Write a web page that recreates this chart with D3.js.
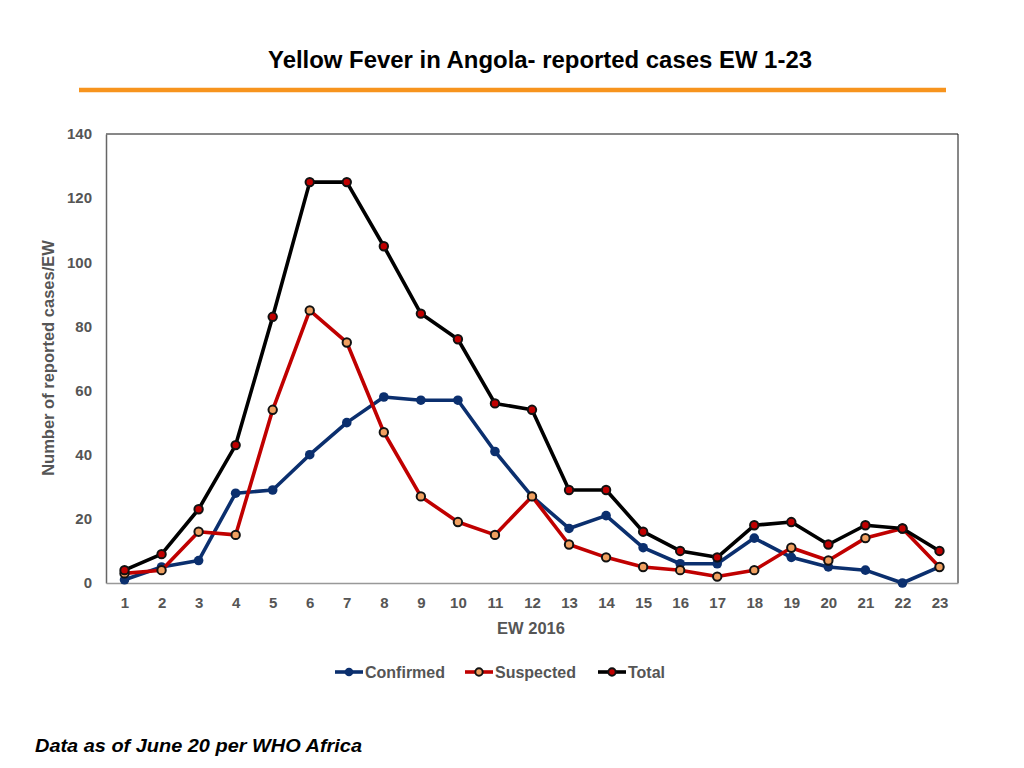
<!DOCTYPE html>
<html><head><meta charset="utf-8">
<script src="https://cdn.jsdelivr.net/npm/d3@7"></script>
<style>body{margin:0;background:#fff}svg{display:block}</style>
</head><body>
<svg id="c" width="1024" height="768"></svg>
<script>
const weeks = d3.range(1, 24).map(String);
const confirmed = [1,5,7,28,29,40,50,58,57,57,41,27,17,21,11,6,6,14,8,5,4,0,5];
const suspected = [3,4,16,15,54,85,75,47,27,19,15,27,12,8,5,4,2,4,11,7,14,17,5];
const total = [4,9,23,43,83,125,125,105,84,76,56,54,29,29,16,10,8,18,19,12,18,17,10];
const yTicks = [0,20,40,60,80,100,120,140];
const seriesNames = ["Confirmed","Suspected","Total"];

const svg = d3.select("#c");
const L = 106, R = 958, T = 134, B = 583;
const x = d3.scalePoint().domain(weeks).range([L, R]).padding(0.5);
const y = d3.scaleLinear().domain([0,140]).range([B, T]);

// title
svg.append("text").attr("x", 540).attr("y", 68).attr("text-anchor","middle")
  .attr("font-family","'Liberation Sans', Arial, sans-serif")
  .attr("font-weight","bold").attr("font-size",23).attr("fill","#000")
  .attr("textLength",544).attr("lengthAdjust","spacingAndGlyphs")
  .text("Yellow Fever in Angola- reported cases EW 1-23");
svg.append("line").attr("x1",79).attr("x2",946).attr("y1",90).attr("y2",90)
  .attr("stroke","#f7941d").attr("stroke-width",4.5);

// frame
svg.append("line").attr("x1",L).attr("x2",R).attr("y1",T).attr("y2",T).attr("stroke","#111").attr("stroke-width",1);
svg.append("line").attr("x1",R).attr("x2",R).attr("y1",T).attr("y2",B).attr("stroke","#111").attr("stroke-width",1);

const font = "'Liberation Sans', Arial, Helvetica, sans-serif";
// y axis
const ya = svg.append("g").attr("transform",`translate(${L},0)`)
  .call(d3.axisLeft(y).tickValues(yTicks).tickSize(0).tickPadding(14));
ya.select(".domain").attr("stroke","#666").attr("stroke-width",1.5);
ya.selectAll("text").attr("font-family",font).attr("font-weight","bold").attr("font-size",15).attr("fill","#555");

// x axis
const xa = svg.append("g").attr("transform",`translate(0,${B})`)
  .call(d3.axisBottom(x).tickSize(0).tickPadding(14));
xa.select(".domain").attr("stroke","#999").attr("stroke-width",1.5);
xa.selectAll("text").attr("font-family",font).attr("font-weight","bold").attr("font-size",15).attr("fill","#555");

svg.append("text").attr("x",531).attr("y",634).attr("text-anchor","middle")
  .attr("font-family",font).attr("font-weight","bold").attr("font-size",16.5).attr("fill","#555").text("EW 2016");
svg.append("text").attr("transform",`translate(54,358) rotate(-90)`).attr("text-anchor","middle")
  .attr("font-family",font).attr("font-weight","bold").attr("font-size",16.5).attr("fill","#555")
  .text("Number of reported cases/EW");

const styles = [
  {data: confirmed, line: "#0b2f6e", fill: "#0b2f6e", stroke: "none", r: 4.8},
  {data: suspected, line: "#c00000", fill: "#f0a060", stroke: "#111", r: 4.2},
  {data: total, line: "#000", fill: "#c00000", stroke: "#111", r: 4.2}
];
const line = d3.line().x((d,i)=>x(weeks[i])).y(d=>y(d));
styles.forEach(s => {
  svg.append("path").attr("d", line(s.data)).attr("fill","none")
    .attr("stroke", s.line).attr("stroke-width",3.6).attr("stroke-linejoin","round");
  svg.append("g").selectAll("circle").data(s.data).join("circle")
    .attr("cx",(d,i)=>x(weeks[i])).attr("cy",d=>y(d)).attr("r",s.r)
    .attr("fill",s.fill).attr("stroke",s.stroke).attr("stroke-width",s.stroke==="none"?0:2);
});

// legend
const legX = [335, 465, 598];
const lg = svg.append("g");
seriesNames.forEach((n,i)=>{
  const s = styles[i], x0 = legX[i];
  lg.append("line").attr("x1",x0).attr("x2",x0+28).attr("y1",672).attr("y2",672)
    .attr("stroke",s.line).attr("stroke-width",3.6);
  lg.append("circle").attr("cx",x0+14).attr("cy",672).attr("r",s.r-0.5)
    .attr("fill",s.fill).attr("stroke",s.stroke).attr("stroke-width",s.stroke==="none"?0:2);
  lg.append("text").attr("x",x0+30).attr("y",678).attr("font-family",font).attr("font-weight","bold")
    .attr("font-size",16).attr("fill","#555").text(n);
});

svg.append("text").attr("x",35).attr("y",752).attr("font-family",font).attr("font-weight","bold")
  .attr("font-style","italic").attr("font-size",19).attr("fill","#000")
  .attr("textLength",327).attr("lengthAdjust","spacingAndGlyphs").text("Data as of June 20 per WHO Africa");
</script>
</body></html>
